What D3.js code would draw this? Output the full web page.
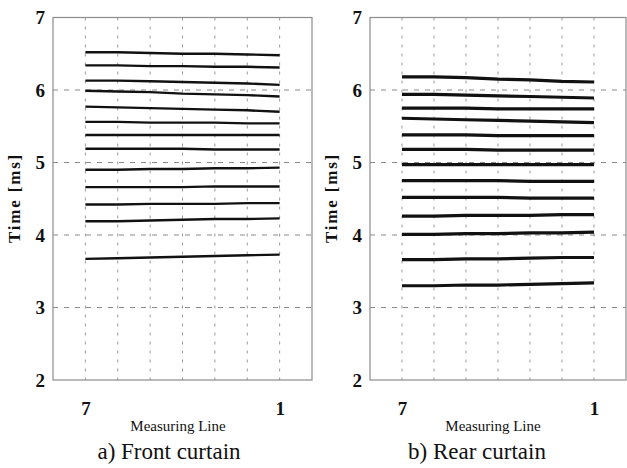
<!DOCTYPE html>
<html>
<head>
<meta charset="utf-8">
<script src="https://cdn.jsdelivr.net/npm/d3@7"></script>
<style>
  body { margin: 0; background: #fff; }
  svg { display: block; font-family: "Liberation Serif", "Times New Roman", serif; }
</style>
</head>
<body>
<svg id="chart" width="627" height="468"></svg>
<script>

// measuring lines, read from left (7) to right (1)
var measuringLines = [7, 6, 5, 4, 3, 2, 1];
var xTickValues = [7, 1];
var yTickValues = [2, 3, 4, 5, 6, 7];
var yGridValues = [3, 4, 5, 6];

// front curtain: one array per slit, time [ms] at each measuring line
var frontCurves = [
  [6.52, 6.52, 6.51, 6.50, 6.50, 6.49, 6.48],
  [6.34, 6.34, 6.33, 6.33, 6.32, 6.32, 6.31],
  [6.13, 6.13, 6.12, 6.11, 6.10, 6.09, 6.07],
  [5.99, 5.98, 5.97, 5.95, 5.94, 5.93, 5.91],
  [5.77, 5.76, 5.75, 5.74, 5.73, 5.72, 5.70],
  [5.56, 5.56, 5.55, 5.55, 5.55, 5.54, 5.54],
  [5.38, 5.38, 5.38, 5.38, 5.38, 5.38, 5.38],
  [5.19, 5.19, 5.19, 5.19, 5.18, 5.18, 5.18],
  [4.90, 4.90, 4.91, 4.91, 4.92, 4.92, 4.93],
  [4.66, 4.66, 4.66, 4.66, 4.67, 4.67, 4.67],
  [4.42, 4.42, 4.43, 4.43, 4.43, 4.44, 4.44],
  [4.19, 4.19, 4.20, 4.21, 4.22, 4.22, 4.23],
  [3.67, 3.68, 3.69, 3.70, 3.71, 3.72, 3.73]
];

// rear curtain
var rearCurves = [
  [6.18, 6.18, 6.17, 6.15, 6.14, 6.12, 6.11],
  [5.94, 5.94, 5.93, 5.92, 5.91, 5.90, 5.89],
  [5.75, 5.75, 5.75, 5.74, 5.74, 5.74, 5.74],
  [5.61, 5.60, 5.59, 5.58, 5.57, 5.56, 5.55],
  [5.38, 5.38, 5.38, 5.37, 5.37, 5.37, 5.37],
  [5.18, 5.18, 5.18, 5.17, 5.17, 5.17, 5.17],
  [4.97, 4.97, 4.97, 4.97, 4.97, 4.97, 4.97],
  [4.75, 4.75, 4.75, 4.75, 4.74, 4.74, 4.74],
  [4.52, 4.52, 4.52, 4.52, 4.51, 4.51, 4.51],
  [4.26, 4.26, 4.27, 4.27, 4.27, 4.28, 4.28],
  [4.01, 4.01, 4.02, 4.02, 4.03, 4.03, 4.04],
  [3.66, 3.66, 3.67, 3.67, 3.68, 3.69, 3.69],
  [3.30, 3.30, 3.31, 3.31, 3.32, 3.33, 3.34]
];

var svg = d3.select('#chart');
var plotTop = 17.5, plotBottom = 380;

function drawPanel(opts) {
  var x = d3.scaleLinear().domain([8, 0]).range([opts.left, opts.right]);
  var y = d3.scaleLinear().domain([2, 7]).range([plotBottom, plotTop]);
  var g = svg.append('g');

  // dashed grid
  g.selectAll('line.vgrid')
      .data(measuringLines)
      .enter()
      .append('line')
      .attr('class', 'vgrid')
      .attr('x1', x).attr('x2', x)
      .attr('y1', plotTop).attr('y2', plotBottom)
      .attr('stroke', '#999')
      .attr('stroke-width', 1)
      .attr('stroke-dasharray', '3,6');

  g.selectAll('line.hgrid')
      .data(yGridValues)
      .enter()
      .append('line')
      .attr('class', 'hgrid')
      .attr('x1', opts.left).attr('x2', opts.right)
      .attr('y1', y).attr('y2', y)
      .attr('stroke', '#8a8a8a')
      .attr('stroke-width', 1)
      .attr('stroke-dasharray', '5,6');

  g.append('rect')
      .attr('x', opts.left).attr('y', plotTop)
      .attr('width', opts.right - opts.left)
      .attr('height', plotBottom - plotTop)
      .attr('fill', 'none')
      .attr('stroke', '#8c8c8c')
      .attr('stroke-width', 1.2);

  var line = d3.line()
      .x(function(d, i) { return x(measuringLines[i]); })
      .y(function(d) { return y(d); });

  g.selectAll('path.curve')
      .data(opts.curves)
      .enter()
      .append('path')
      .attr('class', 'curve')
      .attr('d', line)
      .attr('fill', 'none')
      .attr('stroke', '#111')
      .attr('stroke-width', opts.lineWidth);

  // axes
  var yAxis = g.append('g')
      .attr('transform', 'translate(' + opts.left + ',0)')
      .call(d3.axisLeft(y).tickValues(yTickValues).tickSize(0).tickPadding(8).tickFormat(d3.format('d')));
  yAxis.select('.domain').remove();
  yAxis.selectAll('text')
      .attr('font-family', '"Liberation Serif", serif')
      .attr('font-size', 19)
      .attr('font-weight', 'bold')
      .attr('fill', '#111');

  var xAxis = g.append('g')
      .attr('transform', 'translate(0,' + plotBottom + ')')
      .call(d3.axisBottom(x).tickValues(xTickValues).tickSize(0).tickPadding(22).tickFormat(d3.format('d')));
  xAxis.select('.domain').remove();
  xAxis.selectAll('text')
      .attr('font-family', '"Liberation Serif", serif')
      .attr('font-size', 19)
      .attr('font-weight', 'bold')
      .attr('fill', '#111');

  g.append('text')
      .attr('transform', 'translate(' + opts.yLabelX + ',' + 198 + ') rotate(-90)')
      .attr('text-anchor', 'middle')
      .attr('font-size', 17)
      .attr('font-weight', 'bold')
      .attr('letter-spacing', 1.8)
      .attr('fill', '#111')
      .text('Time [ms]');

  g.append('text')
      .attr('x', opts.xLabelX).attr('y', 431)
      .attr('text-anchor', 'middle')
      .attr('font-size', 15)
      .attr('fill', '#111')
      .text('Measuring Line');

  g.append('text')
      .attr('x', opts.captionX).attr('y', 459)
      .attr('text-anchor', 'middle')
      .attr('font-size', 23)
      .attr('fill', '#111')
      .text(opts.caption);
}

drawPanel({ left: 53, right: 312, curves: frontCurves, lineWidth: 2.4,
  yLabelX: 20, xLabelX: 178, captionX: 169, caption: 'a) Front curtain' });
drawPanel({ left: 370, right: 626, curves: rearCurves, lineWidth: 3.2,
  yLabelX: 337, xLabelX: 493, captionX: 477, caption: 'b) Rear curtain' });

</script>
</body>
</html>
